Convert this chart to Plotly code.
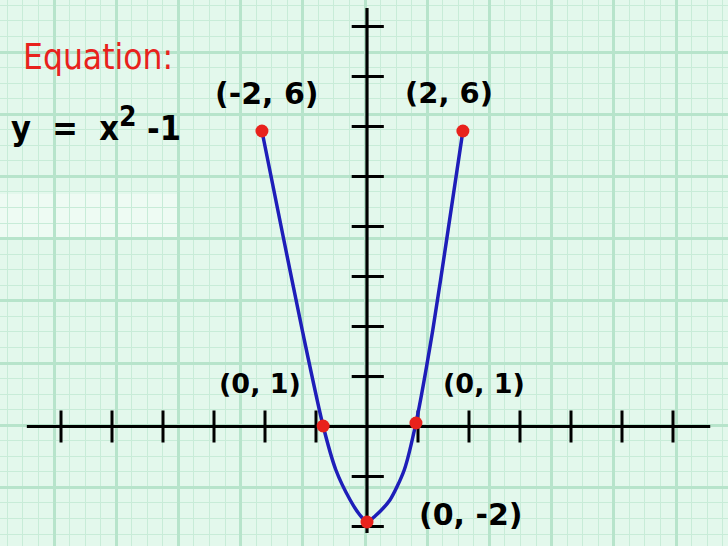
import plotly.graph_objects as go

# ---- data ----
curve_x = [-2.06, -1.67, -1.27, -0.86, -0.61, -0.33, -0.14, 0.00,
           0.16, 0.45, 0.73, 0.96, 1.29, 1.59, 1.88]
curve_y = [5.91, 3.93, 1.93, 0.01, -0.87, -1.47, -1.77, -1.91,
           -1.79, -1.47, -0.87, 0.07, 1.93, 3.93, 5.91]

point_x = [-2.06, -0.86, 0.00, 0.96, 1.88]
point_y = [5.91, 0.01, -1.91, 0.07, 5.91]
point_labels = ["(-2, 6)", "(0, 1)", "(0, -2)", "(0, 1)", "(2, 6)"]

x_ticks = [-6, -5, -4, -3, -2, -1, 1, 2, 3, 4, 5, 6]
y_ticks = [-2, -1, 1, 2, 3, 4, 5, 6, 7, 8]
x_axis_extent = [-6.67, 6.73]
y_axis_extent = [-2.13, 8.37]

title_text = "Equation:"
equation_text = "y  =  x<sup><span style='font-size:28px'>2</span></sup> -1"

# ---- styles ----
W, H = 728, 546
X0PIX, XSCALE = 367, 51.0
Y0PIX, YSCALE = 426.5, 50.0
xr = [-X0PIX / XSCALE, (W - X0PIX) / XSCALE]
yr = [(Y0PIX - H) / YSCALE, Y0PIX / YSCALE]

BG = "rgb(227,248,236)"
MINOR = "rgb(200,236,216)"
MAJOR = "rgb(183,228,203)"
RED = "rgb(232,34,28)"
BLUE = "rgb(30,30,185)"
COND = "DejaVu Sans Condensed, Liberation Sans Narrow, DejaVu Sans"

maj = 62.2
x_major_dt = maj / XSCALE
y_major_dt = maj / YSCALE
x_major_t0 = (54 - X0PIX) / XSCALE
y_major_t0 = (Y0PIX - 52) / YSCALE

fig = go.Figure()

# axes lines
fig.add_trace(go.Scatter(x=x_axis_extent, y=[0, 0], mode="lines",
                         line=dict(color="black", width=3.2), hoverinfo="skip"))
fig.add_trace(go.Scatter(x=[0, 0], y=y_axis_extent, mode="lines",
                         line=dict(color="black", width=3.2), hoverinfo="skip"))

# tick marks
xt_x, xt_y = [], []
for t in x_ticks:
    xt_x += [t, t, None]
    xt_y += [-0.32, 0.32, None]
yt_x, yt_y = [], []
for t in y_ticks:
    yt_x += [-0.3, 0.33, None]
    yt_y += [t, t, None]
fig.add_trace(go.Scatter(x=xt_x, y=xt_y, mode="lines",
                         line=dict(color="black", width=3), hoverinfo="skip"))
fig.add_trace(go.Scatter(x=yt_x, y=yt_y, mode="lines",
                         line=dict(color="black", width=3), hoverinfo="skip"))

# curve
fig.add_trace(go.Scatter(x=curve_x, y=curve_y, mode="lines",
                         line=dict(color=BLUE, width=3.5, shape="spline", smoothing=0.7),
                         hoverinfo="skip"))
# points
fig.add_trace(go.Scatter(x=point_x, y=point_y, mode="markers",
                         marker=dict(color=RED, size=13, line=dict(width=0)),
                         hoverinfo="skip"))

label_shift = [(5, 38), (-63, 43), (103, 8), (68, 40), (-14, 38)]
label_size = [30, 27, 30, 27, 29]
for (px, py, txt, (dx, dy), fs) in zip(point_x, point_y, point_labels, label_shift, label_size):
    fig.add_annotation(x=px, y=py, xref="x", yref="y", text=txt, showarrow=False,
                       xshift=dx, yshift=dy, xanchor="center", yanchor="middle",
                       font=dict(family="DejaVu Sans", size=fs, color="black", weight="bold"))

fig.add_annotation(x=98 / W, y=1 - 57 / H, xref="paper", yref="paper", text=title_text,
                   showarrow=False, xanchor="center", yanchor="middle",
                   font=dict(family=COND, size=35, color=RED))
fig.add_annotation(x=96 / W, y=1 - 124 / H, xref="paper", yref="paper", text=equation_text,
                   showarrow=False, xanchor="center", yanchor="middle",
                   font=dict(family=COND, size=34, color="black", weight="bold"))

# lighter patch on the paper
fig.add_shape(type="rect", xref="paper", yref="paper",
              x0=0, x1=180 / W, y0=1 - 238 / H, y1=1 - 194 / H,
              fillcolor="rgba(255,255,255,0.4)", line=dict(width=0), layer="between")

axis_common = dict(showticklabels=False, ticks="", zeroline=False, showline=False,
                   fixedrange=True)
fig.update_xaxes(range=xr, tick0=x_major_t0, dtick=x_major_dt, showgrid=True,
                 gridcolor=MAJOR, gridwidth=2.5,
                 minor=dict(tick0=x_major_t0, dtick=x_major_dt / 4, showgrid=True,
                            gridcolor=MINOR, gridwidth=1.3, ticks=""),
                 **axis_common)
fig.update_yaxes(range=yr, tick0=y_major_t0, dtick=y_major_dt, showgrid=True,
                 gridcolor=MAJOR, gridwidth=2.5,
                 minor=dict(tick0=y_major_t0, dtick=y_major_dt / 4, showgrid=True,
                            gridcolor=MINOR, gridwidth=1.3, ticks=""),
                 **axis_common)

fig.update_layout(width=W, height=H, margin=dict(l=0, r=0, t=0, b=0),
                  paper_bgcolor=BG, plot_bgcolor=BG, showlegend=False)

fig.write_html("out.html", config={"displayModeBar": False},
               post_script="document.body.style.margin='0px';")
